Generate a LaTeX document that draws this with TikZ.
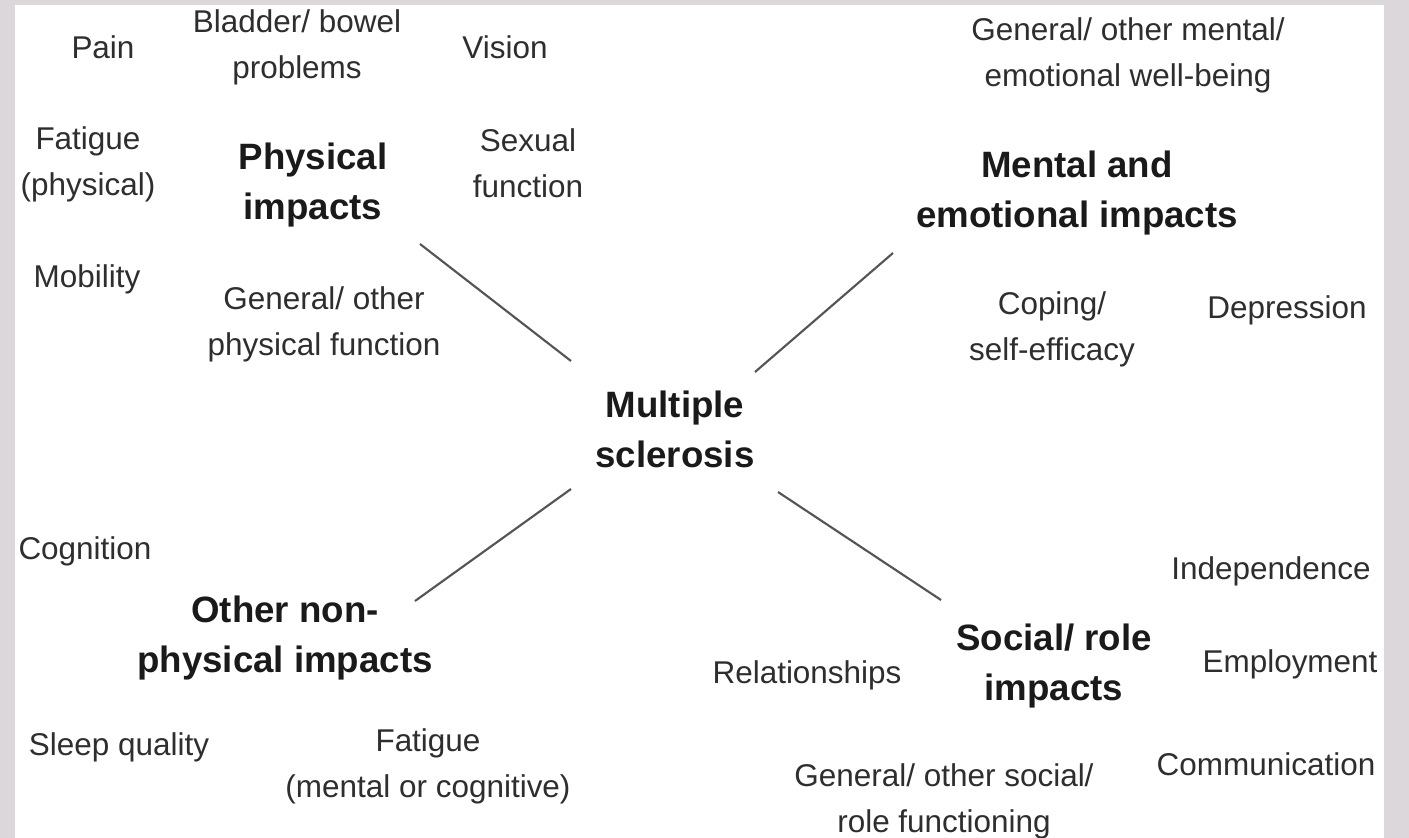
\documentclass[tikz,border=0pt]{standalone}
\usepackage{fontspec}
\setmainfont{Liberation Sans}
\definecolor{frame}{HTML}{DCD7DA}
\definecolor{txt}{HTML}{2E2E2E}
\definecolor{bld}{HTML}{1A1A1A}
\definecolor{ln}{HTML}{555555}
\begin{document}
\begin{tikzpicture}[x=0.75pt,y=-0.75pt,
  item/.style={text=txt,align=center,inner sep=0pt,font=\fontsize{23.6}{34.5}\selectfont},
  head/.style={text=bld,align=center,inner sep=0pt,font=\fontsize{27.5}{37.5}\selectfont\bfseries},
  spoke/.style={draw=ln,line width=1.6pt}]
\fill[frame] (0,0) rectangle (1409,838);
\fill[white] (15,5) rectangle (1384,838);
\useasboundingbox (0,0) rectangle (1409,838);
% centre
\node[head] (ms) at (675,429) {Multiple\\sclerosis};
% headings
\node[head] (phys) at (313,185) {Physical\\impacts};
\node[head] (ment) at (1077,193) {Mental and\\emotional impacts};
\node[head] (oth) at (285,638) {Other non-\\physical impacts};
\node[head] (soc) at (1054,666) {Social/ role\\impacts};
% physical items
\node[item] (pain) at (103,47) {Pain};
\node[item] (bladder) at (297,47) {Bladder/ bowel\\problems};
\node[item] (vision) at (505,47) {Vision};
\node[item] (fatp) at (88,164) {Fatigue\\(physical)};
\node[item] (sex) at (528,163) {Sexual\\function};
\node[item] (mob) at (87,279) {Mobility};
\node[item] (genp) at (324,324) {General/ other\\physical function};
% mental items
\node[item] (genm) at (1128,55) {General/ other mental/\\emotional well-being};
\node[item] (cope) at (1052,329) {Coping/\\self-efficacy};
\node[item] (dep) at (1287,310) {Depression};
% other items
\node[item] (cog) at (85,551) {Cognition};
\node[item] (sleep) at (119,747) {Sleep quality};
\node[item] (fatm) at (428,766) {Fatigue\\(mental or cognitive)};
% social items
\node[item] (indep) at (1271,571) {Independence};
\node[item] (rel) at (807,675) {Relationships};
\node[item] (emp) at (1290,664) {Employment};
\node[item] (comm) at (1266,764) {Communication};
\node[item] (gens) at (944,801) {General/ other social/\\role functioning};
% spokes
\coordinate (p1) at (420,244); \coordinate (p2) at (571,361);
\coordinate (m1) at (893,253); \coordinate (m2) at (755,372);
\coordinate (o1) at (415,601); \coordinate (o2) at (571,489);
\coordinate (s1) at (941,600); \coordinate (s2) at (778,492);
\draw[spoke] (p1) -- (p2);
\draw[spoke] (m1) -- (m2);
\draw[spoke] (o1) -- (o2);
\draw[spoke] (s1) -- (s2);
\end{tikzpicture}
\end{document}
